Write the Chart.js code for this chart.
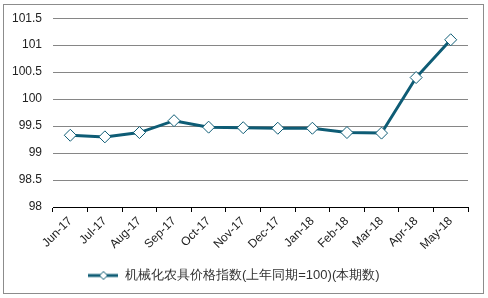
<!DOCTYPE html>
<html><head><meta charset="utf-8">
<script src="https://cdn.jsdelivr.net/npm/chart.js@4"></script>
<style>
html,body{margin:0;padding:0;background:#fff;}
#wrap{position:relative;width:488px;height:298px;}
#frame{position:absolute;left:3px;top:4px;width:479px;height:288px;border:1px solid #8c8c8c;box-sizing:content-box;pointer-events:none;}
canvas{position:absolute;left:0;top:0;}
</style></head>
<body>
<div id="wrap"><canvas id="c" width="488" height="298"></canvas><div id="frame"></div></div>
<script>
const categories = ['Jun-17','Jul-17','Aug-17','Sep-17','Oct-17','Nov-17','Dec-17','Jan-18','Feb-18','Mar-18','Apr-18','May-18'];
const seriesName = '机械化农具价格指数(上年同期=100)(本期数)';
const values = [99.33, 99.30, 99.38, 99.60, 99.48, 99.47, 99.46, 99.46, 99.38, 99.37, 100.40, 101.10];
const yTicks = [98, 98.5, 99, 99.5, 100, 100.5, 101, 101.5];

const lineColor = '#0e5c75';
const font = "'Liberation Sans', Arial, sans-serif";

// legend icon: line with diamond
const icon = document.createElement('canvas');
icon.width = 30; icon.height = 12;
(function(){
  const g = icon.getContext('2d');
  g.strokeStyle = lineColor; g.lineWidth = 3;
  g.beginPath(); g.moveTo(0,6); g.lineTo(30,6); g.stroke();
  g.fillStyle = '#fff'; g.lineWidth = 1;
  g.beginPath(); g.moveTo(15,2); g.lineTo(19,6); g.lineTo(15,10); g.lineTo(11,6); g.closePath();
  g.fill(); g.stroke();
})();

new Chart(document.getElementById('c'), {
  type: 'line',
  data: {
    labels: categories,
    datasets: [{
      label: seriesName,
      data: values,
      borderColor: lineColor,
      borderWidth: 3,
      backgroundColor: '#fff',
      pointStyle: 'rectRot',
      pointRadius: 6,
      pointBorderWidth: 1,
      pointBorderColor: lineColor,
      pointBackgroundColor: '#fff',
      tension: 0
    }]
  },
  options: {
    responsive: false,
    animation: false,
    layout: { padding: { left: 0, right: 20, top: 18, bottom: 6 } },
    plugins: {
      tooltip: { enabled: false },
      legend: {
        position: 'bottom',
        labels: {
          usePointStyle: true,
          pointStyleWidth: 30,
          font: { family: font, size: 13 },
          color: '#333',
          padding: 10,
          generateLabels: (chart) => chart.data.datasets.map((ds, i) => ({
            text: ds.label, pointStyle: icon, datasetIndex: i, hidden: false,
            fontColor: '#333', lineWidth: 0, strokeStyle: 'transparent', fillStyle: 'transparent'
          }))
        }
      }
    },
    scales: {
      x: {
        offset: true,
        grid: { offset: true, drawOnChartArea: false, drawTicks: true, tickLength: 5, tickColor: '#000' },
        border: { display: true, color: '#000', width: 1 },
        ticks: { minRotation: 45, maxRotation: 45, font: { family: font, size: 12 }, color: '#222', padding: 2 },
        afterFit: (s) => { s.height = 52; }
      },
      y: {
        min: 98, max: 101.5,
        afterBuildTicks: (s) => { s.ticks = yTicks.map(v => ({ value: v })); },
        grid: { color: '#868686', lineWidth: 1, drawTicks: false },
        border: { display: false },
        ticks: { font: { family: font, size: 12 }, color: '#222', padding: 11, callback: (v) => String(v) },
        afterFit: (s) => { s.width = 53; }
      }
    }
  }
});
</script>
</body></html>
